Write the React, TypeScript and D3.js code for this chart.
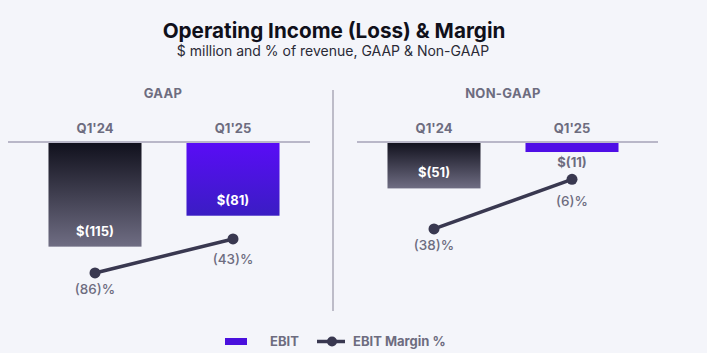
import React from "react";
import * as d3 from "d3";

const categories = ["Q1'24", "Q1'25"];
const gaapEbit = [-115, -81];
const gaapMargin = [-86, -43];
const nonGaapEbit = [-51, -11];
const nonGaapMargin = [-38, -6];
const ebitLabels = { gaap: ["$(115)", "$(81)"], nongaap: ["$(51)", "$(11)"] };
const marginLabels = { gaap: ["(86)%", "(43)%"], nongaap: ["(38)%", "(6)%"] };

const W = 707;
const H = 353;
const FONT = "Inter, 'Noto Sans', sans-serif";
const GRAY = "#6d6c7f";
const LINE = "#393850";

const yBar = d3.scaleLinear().domain([0, -120]).range([142, 251.2]);

type PanelProps = {
  title: string;
  titleX: number;
  range: [number, number];
  axis: [number, number];
  ebit: number[];
  margin: number[];
  eLabels: string[];
  mLabels: string[];
  lineRange: [number, number];
  mLabelDy: number[];
};

function Panel(p: PanelProps) {
  const x = d3.scaleBand<string>().domain(categories).range(p.range).paddingInner(0.326).paddingOuter(0.163);
  const yL = d3.scaleLinear().domain([0, -100]).range(p.lineRange);
  const bw = x.bandwidth();
  const pts: [number, number][] = categories.map((c, i) => [x(c)! + bw / 2, yL(p.margin[i])]);
  const line = d3.line();
  return (
    <g>
      <text x={p.titleX} y={98} textAnchor="middle" fontFamily={FONT} fontWeight={700} fontSize={13} fill={GRAY} letterSpacing={0.3}>
        {p.title}
      </text>
      {categories.map((c) => (
        <text key={c} x={x(c)! + bw / 2} y={133} textAnchor="middle" fontFamily={FONT} fontWeight={700} fontSize={13} fill={GRAY}>
          {c}
        </text>
      ))}
      {categories.map((c, i) => {
        const top = yBar(0);
        const bot = yBar(p.ebit[i]);
        const h = bot - top;
        const inside = h > 30;
        return (
          <g key={c}>
            <rect x={x(c)} y={top} width={bw} height={h} fill={i === 0 ? "url(#gDark)" : h > 30 ? "url(#gPurple)" : "#4f0ee6"} />
            <text
              x={x(c)! + bw / 2}
              y={inside ? bot - 11 : bot + 15}
              textAnchor="middle"
              fontFamily={FONT}
              fontWeight={700}
              fontSize={13}
              fill={inside ? "#ffffff" : GRAY}
            >
              {p.eLabels[i]}
            </text>
          </g>
        );
      })}
      <line x1={p.axis[0]} x2={p.axis[1]} y1={142} y2={142} stroke="#b9b7c8" strokeWidth={2} />
      <path d={line(pts) || ""} fill="none" stroke={LINE} strokeWidth={3.5} />
      {pts.map((pt, i) => (
        <g key={i}>
          <circle cx={pt[0]} cy={pt[1]} r={5.5} fill={LINE} />
          <text x={pt[0]} y={pt[1] + p.mLabelDy[i]} textAnchor="middle" fontFamily={FONT} fontWeight={500} fontSize={13.5} fill={GRAY}>
            {p.mLabels[i]}
          </text>
        </g>
      ))}
    </g>
  );
}

export default function App() {
  return (
    <svg width={W} height={H} style={{ position: "absolute", left: 0, top: 0 }}>
      <defs>
        <linearGradient id="gDark" x1="0" y1="0" x2="0" y2="1">
          <stop offset="0%" stopColor="#10101c" />
          <stop offset="100%" stopColor="#6f6d83" />
        </linearGradient>
        <linearGradient id="gPurple" x1="0" y1="0" x2="0" y2="1">
          <stop offset="0%" stopColor="#5a0cf7" />
          <stop offset="100%" stopColor="#3a1dc3" />
        </linearGradient>
      </defs>
      <rect width={W} height={H} fill="#f4f5fa" />
      <text x={334} y={38} textAnchor="middle" fontFamily={FONT} fontWeight={700} fontSize={20.7} fill="#10101a">
        Operating Income (Loss) &amp; Margin
      </text>
      <text x={333} y={56} textAnchor="middle" fontFamily={FONT} fontWeight={400} fontSize={14} fill="#2a2a36">
        $ million and % of revenue, GAAP &amp; Non-GAAP
      </text>
      <line x1={333} x2={333} y1={90} y2={311} stroke="#bdbcc8" strokeWidth={2} />
      <Panel
        title="GAAP"
        titleX={163}
        range={[26, 302]}
        axis={[8, 310]}
        ebit={gaapEbit}
        margin={gaapMargin}
        eLabels={ebitLabels.gaap}
        mLabels={marginLabels.gaap}
        lineRange={[205, 284]}
        mLabelDy={[21, 25]}
      />
      <Panel
        title="NON-GAAP"
        titleX={503}
        range={[365, 641]}
        axis={[357, 658]}
        ebit={nonGaapEbit}
        margin={nonGaapMargin}
        eLabels={ebitLabels.nongaap}
        mLabels={marginLabels.nongaap}
        lineRange={[170, 325]}
        mLabelDy={[21, 27]}
      />
      <g>
        <rect x={225} y={338} width={22} height={7} fill="#4a10dd" />
        <text x={270} y={346} fontFamily={FONT} fontWeight={700} fontSize={13} fill={GRAY}>
          EBIT
        </text>
        <line x1={317} x2={345} y1={341.5} y2={341.5} stroke={LINE} strokeWidth={3.5} />
        <circle cx={332} cy={341.5} r={5} fill={LINE} />
        <text x={353} y={346} fontFamily={FONT} fontWeight={700} fontSize={13} fill={GRAY}>
          EBIT Margin %
        </text>
      </g>
    </svg>
  );
}
